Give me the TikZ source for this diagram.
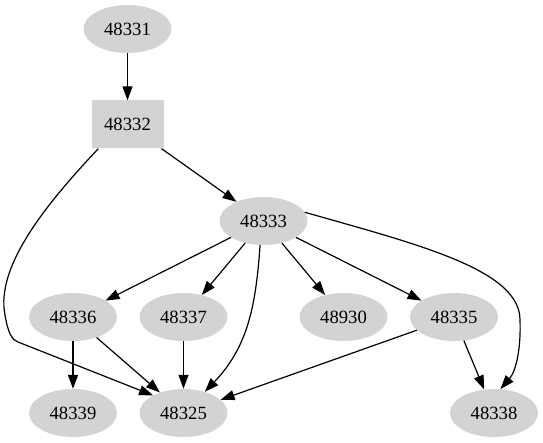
\documentclass[tikz,border=0pt]{standalone}
\usepackage{fontspec}
\setmainfont{Liberation Serif}
\usetikzlibrary{arrows.meta,shapes.geometric}
\definecolor{nodegray}{RGB}{211,211,211}
\begin{document}
\begin{tikzpicture}[x=1pt,y=-1pt,
  ell/.style={ellipse,fill=nodegray,draw=none,minimum width=88pt,minimum height=48pt,inner sep=0pt,font=\fontsize{18.67}{20}\selectfont},
  box/.style={rectangle,fill=nodegray,draw=none,minimum width=72pt,minimum height=48pt,inner sep=0pt,font=\fontsize{18.67}{20}\selectfont},
  edge/.style={draw=black,line width=1.2pt,-{Triangle[length=14pt,width=10pt]}}]
\useasboundingbox (0,0) rectangle (543,443);
\node[ell] (n48331) at (127.5,29) {48331};
\node[box] (n48332) at (127.5,124.5) {48332};
\node[ell] (n48333) at (263.5,221) {48333};
\node[ell] (n48336) at (73,317) {48336};
\node[ell] (n48337) at (183.5,317) {48337};
\node[ell] (n48930) at (343.5,317) {48930};
\node[ell] (n48335) at (454,317) {48335};
\node[ell] (n48339) at (73,413) {48339};
\node[ell] (n48325) at (183.5,413) {48325};
\node[ell] (n48338) at (494,413) {48338};

\draw[edge] (n48331) -- (n48332);
\draw[edge] (n48332) -- (n48333);
\draw[edge] (n48332.south west) ++(7,0) coordinate (c1)
  (c1) .. controls (50,200) and (-5,265) .. (5,315)
  .. controls (8,333) and (12,340) .. (18,342) -- (n48325.150);
\draw[edge] (n48333) -- (n48336);
\draw[edge] (n48333) -- (n48337);
\draw[edge] (n48333) -- (n48930);
\draw[edge] (n48333) -- (n48335);
\draw[edge] (n48333.262) .. controls (256,300) and (250,345) .. (n48325.45);
\draw[edge] (n48333.12) .. controls (420,245) and (520,270) .. (520,320)
  .. controls (521,345) and (517,370) .. (n48338.75);
\draw[edge] (n48336) -- (n48339);
\draw[edge] (n48336) -- (n48325);
\draw[edge] (n48337) -- (n48325);
\draw[edge] (n48335) -- (n48325);
\draw[edge] (n48335) -- (n48338);
\end{tikzpicture}
\end{document}
